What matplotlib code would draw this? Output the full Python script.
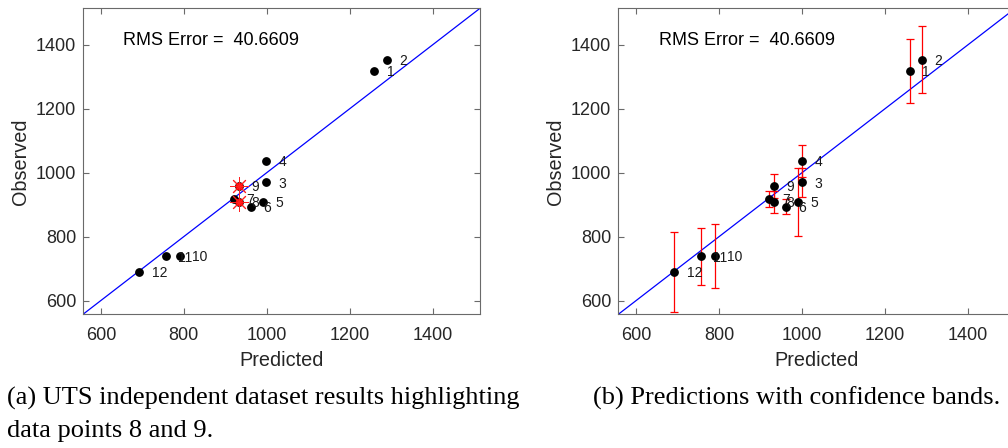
import numpy as np
import matplotlib.pyplot as plt

# data
point_ids = [1, 2, 3, 4, 5, 6, 7, 8, 9, 10, 11, 12]
predicted = [1259, 1289, 999, 999, 990, 961, 921, 932, 933, 790, 756, 692]
observed = [1319, 1353, 970, 1037, 908, 894, 919, 908, 958, 740, 738, 689]
conf_half = [100, 105, 45, 50, 105, 24, 25, 35, 37, 100, 89, 125]
highlight_ids = [8, 9]
rms_error = 40.6609
ticks = [600, 800, 1000, 1200, 1400]
lims = [557, 1514]

caption_a = ["(a) UTS independent dataset results highlighting",
             "data points 8 and 9."]
caption_b = "(b) Predictions with confidence bands."

plt.rcParams['font.family'] = ['Liberation Sans', 'DejaVu Sans']
SPINE = '#6a6a6a'
TXT = '#262626'
SERIF = ['Liberation Serif', 'DejaVu Serif']


def base_axes(ax):
    ax.set_xlim(lims)
    ax.set_ylim(lims)
    ax.set_xticks(ticks)
    ax.set_yticks(ticks)
    ax.tick_params(direction='in', length=4, width=0.8, color=SPINE,
                   labelsize=13, labelcolor=TXT, top=True, right=True)
    ax.tick_params(axis='x', pad=9)
    ax.tick_params(axis='y', pad=5)
    for s in ax.spines.values():
        s.set_color(SPINE)
        s.set_linewidth(0.8)
    ax.set_xlabel("Predicted", fontsize=14.3, color=TXT, labelpad=5)
    ax.set_ylabel("Observed", fontsize=14.3, color=TXT, labelpad=4)
    # unity line from corner to corner
    ax.plot(lims, lims, color='#0000ff', linewidth=0.9, zorder=2)
    ax.text(654, 1413, "RMS Error =  %.4f" % rms_error, fontsize=13,
            color='black', va='center', ha='left')


def label_points(ax):
    for i, x, y in zip(point_ids, predicted, observed):
        ax.annotate(str(i), (x, y), xytext=(9, -1), textcoords='offset points',
                    fontsize=10, va='center', ha='left', color='#1a1a1a', zorder=5)


fig = plt.figure(figsize=(10.08, 4.48), dpi=100)
ax1 = fig.add_axes([83 / 1008, 133.7 / 448, 397 / 1008, 306 / 448])
ax2 = fig.add_axes([618.3 / 1008, 133.7 / 448, 397 / 1008, 306 / 448])

# (a) scatter with highlighted points
base_axes(ax1)
ax1.plot(predicted, observed, 'o', color='black', markersize=5.3, zorder=3)
hx = [predicted[point_ids.index(k)] for k in highlight_ids]
hy = [observed[point_ids.index(k)] for k in highlight_ids]
ax1.plot(hx, hy, 'o', color='#ff0000', markersize=4.5, zorder=4)
ax1.plot(hx, hy, linestyle='none', marker=(8, 2, 0), markersize=13,
         markeredgecolor='#ff2020', markeredgewidth=0.7, zorder=4)
label_points(ax1)

# (b) scatter with confidence bars
base_axes(ax2)
ax2.errorbar(predicted, observed, yerr=conf_half, fmt='none', ecolor='#ff0000',
             elinewidth=0.9, capsize=2.6, capthick=0.9, zorder=3)
ax2.plot(predicted, observed, 'o', color='black', markersize=5.3, zorder=4)
label_points(ax2)

# captions, one text per line
fig.text(7 / 1008, 1 - 405 / 448, caption_a[0], fontsize=19, family=SERIF,
         va='baseline', ha='left')
fig.text(7 / 1008, 1 - 437 / 448, caption_a[1], fontsize=19, family=SERIF,
         va='baseline', ha='left')
fig.text(593 / 1008, 1 - 405 / 448, caption_b, fontsize=19, family=SERIF,
         va='baseline', ha='left')

plt.savefig('out.png', dpi=100)
